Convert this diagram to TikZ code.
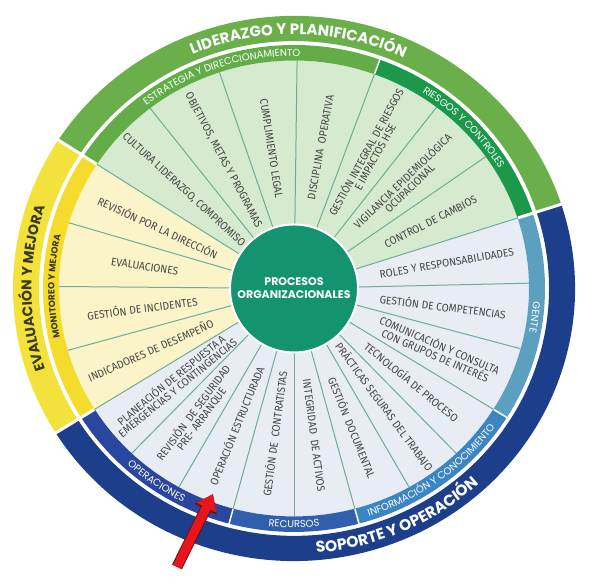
\documentclass[tikz,border=0pt]{standalone}
\usepackage{fontspec}
\setmainfont{Fira Sans}
\newfontfamily\headfont{Poppins}
\newfontfamily\wedgefont{Fira Sans}[FakeStretch=0.93]
\usetikzlibrary{decorations.text, arrows.meta}

\definecolor{lidergreen}{HTML}{6BAF4B}
\definecolor{estratgreen}{HTML}{62AD47}
\definecolor{riesgogreen}{HTML}{1B984A}
\definecolor{greenfill}{HTML}{D5EACF}
\definecolor{evalyellow}{HTML}{F3E13C}
\definecolor{monityellow}{HTML}{F5DC2C}
\definecolor{yellowfill}{HTML}{FBF4C9}
\definecolor{soportenavy}{HTML}{1C3E8B}
\definecolor{operblue}{HTML}{2B469F}
\definecolor{recursoblue}{HTML}{3060AD}
\definecolor{infoblue}{HTML}{3B86C2}
\definecolor{genteblue}{HTML}{5CA0C0}
\definecolor{bluefill}{HTML}{E8ECF4}
\definecolor{spoketeal}{HTML}{6DAD98}
\definecolor{hubgreen}{HTML}{13936F}
\definecolor{labelgray}{HTML}{454545}
\definecolor{evaltext}{HTML}{3A391C}
\definecolor{arrowred}{HTML}{E8161C}
\definecolor{arrowedge}{HTML}{6E1010}

\newcommand{\ringpart}[5]{\fill[#5] (#1:#3) arc[start angle=#1, end angle=#2, radius=#3] -- (#2:#4) arc[start angle=#2, end angle=#1, radius=#4] -- cycle;}
\newcommand{\cwtext}[4]{\path[decorate, decoration={text along path, text align=center, text={#4}}] ({#1+#2}:#3) arc[start angle={#1+#2}, end angle={#1-#2}, radius=#3];}
\newcommand{\ccwtext}[4]{\path[decorate, decoration={text along path, text align=center, text={#4}}] ({#1-#2}:#3) arc[start angle={#1-#2}, end angle={#1+#2}, radius=#3];}

\begin{document}
\begin{tikzpicture}[x=1pt, y=0.97pt,
  spoke/.style={draw=spoketeal, line width=1pt},
  wlabel/.style={font=\wedgefont\fontsize{11}{10}\selectfont, text=labelgray, align=center, inner sep=0pt},
  hub/.style={circle, fill=hubgreen, draw=white, line width=2pt, minimum size=128pt, align=center, text=white, font=\headfont\bfseries\fontsize{11}{13}\selectfont}]
\useasboundingbox (-294,-304.6) rectangle (299,297.4);

% wedge areas
\fill[greenfill] (0,0) -- (18:235) arc[start angle=18, end angle=147, radius=235] -- cycle;
\fill[yellowfill] (0,0) -- (147:235) arc[start angle=147, end angle=212, radius=235] -- cycle;
\fill[bluefill] (0,0) -- (212:235) arc[start angle=212, end angle=378, radius=235] -- cycle;
\foreach \a in {18,35.33,52.67,70,89.25,108.5,127.75,147,163.25,179.5,195.75,212,226.33,240.67,255,270,285,299.33,313.67,328,344.67,361.33}
  \draw[spoke] (\a:60) -- (\a:235);

\node[hub] (hub) at (0,0) {PROCESOS\\ORGANIZACIONALES};

\node[wlabel, rotate=-42.6] (cultura) at (137.4:150) {CULTURA LIDERAZGO, COMPROMISO};
\node[wlabel, rotate=-61.9] (objetivos) at (118.1:150) {OBJETIVOS, METAS Y PROGRAMAS};
\node[wlabel, rotate=-81.1] (cumplimiento) at (98.9:146) {CUMPLIMIENTO LEGAL};
\node[wlabel, rotate=79.6] (disciplina) at (79.6:148) {DISCIPLINA\ \ OPERATIVA};
\node[wlabel, rotate=61.3] (riesgoshse) at (61.3:158) {GESTIÓN INTEGRAL DE RIESGOS\\E IMPACTOS HSE};
\node[wlabel, rotate=44] (vigilancia) at (44:155) {VIGILANCIA EPIDEMIOLÓGICA\\OCUPACIONAL};
\node[wlabel, rotate=26.7] (cambios) at (26.7:153) {CONTROL DE CAMBIOS};
\node[wlabel, rotate=9.7] (roles) at (9.7:155) {ROLES Y RESPONSABILIDADES};
\node[wlabel, rotate=-7] (competencias) at (-7:150) {GESTIÓN DE COMPETENCIAS};
\node[wlabel, rotate=-23.7] (comunicacion) at (-23.7:157) {COMUNICACIÓN Y CONSULTA\\CON GRUPOS DE INTERÉS};
\node[wlabel, rotate=-39.2] (tecnologia) at (-39.2:152) {TECNOLOGÍA DE PROCESO};
\node[wlabel, rotate=-53.5] (practicas) at (-53.5:152) {PRÁCTICAS SEGURAS DEL TRABAJO};
\node[wlabel, rotate=-67.8] (documental) at (-67.8:155) {GESTIÓN\ \ DOCUMENTAL};
\node[wlabel, rotate=-82.5] (activos) at (-82.5:153) {INTEGRIDAD\ \ DE ACTIVOS};
\node[wlabel, rotate=82.5] (contratistas) at (-97.5:151) {GESTIÓN DE\ \ CONTRATISTAS};
\node[wlabel, rotate=67.8] (estructurada) at (-112.2:153) {OPERACIÓN ESTRUCTURADA};
\node[wlabel, rotate=53.5] (prearranque) at (-126.5:163) {REVISIÓN\ \ DE SEGURIDAD\\PRE- ARRANQUE};
\node[wlabel, rotate=39.2] (planeacion) at (-140.8:155) {PLANEACIÓN DE RESPUESTA A\\EMERGENCIAS Y CONTINGENCIAS};
\node[wlabel, rotate=-24.9] (revision) at (155.1:150) {REVISIÓN POR LA DIRECCIÓN};
\node[wlabel, rotate=-8.6] (evaluaciones) at (171.4:151) {EVALUACIONES};
\node[wlabel, rotate=7.6] (incidentes) at (187.6:153) {GESTIÓN DE INCIDENTES};
\node[wlabel, rotate=23.9] (indicadores) at (203.9:157) {INDICADORES DE DESEMPEÑO};

% rings
\ringpart{70}{147}{235}{251}{estratgreen}
\ringpart{18}{70}{235}{251}{riesgogreen}
\ringpart{147}{212}{235}{251}{monityellow}
\ringpart{212}{255}{235}{251}{operblue}
\ringpart{255}{285}{235}{251}{recursoblue}
\ringpart{285}{328}{235}{251}{infoblue}
\ringpart{328}{378}{235}{251}{genteblue}
\ringpart{18}{147}{255}{281}{lidergreen}
\ringpart{147}{212}{255}{281}{evalyellow}
\ringpart{212}{378}{255}{281}{soportenavy}
\foreach \a in {70,255,285,328}
  \draw[white, line width=1.5pt] (\a:235.5) -- (\a:252);
\foreach \a in {18,147,212}
  \draw[white, line width=3pt] (\a:235.5) -- (\a:284);

\cwtext{89}{50}{262}{|\headfont\bfseries\fontsize{15}{15}\selectfont\color{white}|LIDERAZGO Y PLANIFICACIÓN}
\cwtext{180}{45}{262.5}{|\headfont\bfseries\fontsize{14}{14}\selectfont\color{evaltext}|EVALUACIÓN Y MEJORA}
\ccwtext{-66}{50}{273.5}{|\headfont\bfseries\fontsize{15.5}{15.5}\selectfont\color{white}|SOPORTE Y OPERACIÓN}
\cwtext{108.5}{45}{239.5}{|\headfont\fontsize{10}{10}\selectfont\color{white}|ESTRATEGIA Y DIRECCIONAMIENTO}
\cwtext{44}{40}{239.5}{|\headfont\fontsize{10}{10}\selectfont\color{white}|RIESGOS Y CONTROLES}
\cwtext{-7}{40}{239.5}{|\headfont\fontsize{10}{10}\selectfont\color{white}|GENTE}
\ccwtext{-53.5}{45}{246.5}{|\headfont\fontsize{10}{10}\selectfont\color{white}|INFORMACIÓN Y CONOCIMIENTO}
\ccwtext{-90}{40}{246.5}{|\headfont\fontsize{10}{10}\selectfont\color{white}|RECURSOS}
\ccwtext{-125}{40}{246.5}{|\headfont\fontsize{10}{10}\selectfont\color{white}|OPERACIONES}
\cwtext{179.5}{45}{239.5}{|\headfont\bfseries\fontsize{9}{9}\selectfont\color{evaltext}|MONITOREO Y MEJORA}

\coordinate (arrowtail) at (-117,-287);
\coordinate (arrowtip) at (-81,-212);
\draw[arrowedge, line width=11pt, -{Triangle[length=17pt, width=24pt]}] (arrowtail) -- (arrowtip);
\draw[arrowred, line width=9pt, -{Triangle[length=15pt, width=21pt]}] (arrowtail) -- (arrowtip);
\end{tikzpicture}
\end{document}
